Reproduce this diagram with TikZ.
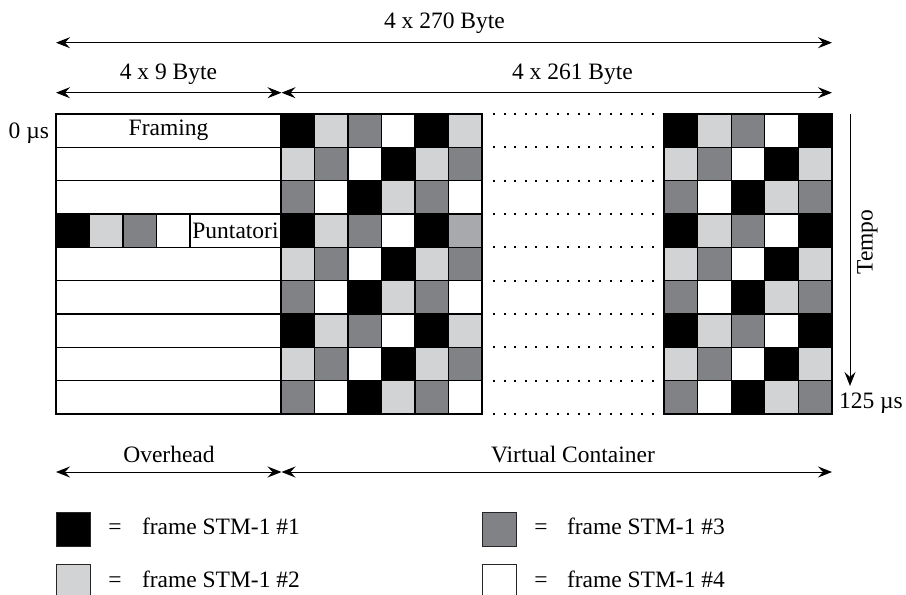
\documentclass[tikz,border=0pt]{standalone}
\usepackage{fontspec}
\setmainfont{Liberation Serif}
\usetikzlibrary{arrows.meta}
\definecolor{frameone}{HTML}{000000}
\definecolor{frametwo}{HTML}{D1D3D4}
\definecolor{framethree}{HTML}{808285}
\definecolor{framefour}{HTML}{FFFFFF}
\definecolor{midgray}{HTML}{A7A9AC}
\begin{document}
\begin{tikzpicture}[x=1pt,y=-1pt,
  txt/.style={font=\fontsize{23.5}{28}\selectfont, inner sep=0pt, outer sep=0pt},
  cellbox/.style={draw=black, line width=1.1pt, minimum width=33.5pt, minimum height=33.33pt,
    inner sep=0pt, outer sep=0pt, anchor=north west, font=\fontsize{23.5}{28}\selectfont},
  ohrow/.style={cellbox, minimum width=225pt},
  legsq/.style={draw=black!85, line width=1pt, minimum width=34pt, minimum height=34pt,
    inner sep=0pt, outer sep=0pt, anchor=north west},
  tipstyle/.style={},
  dimline/.style={line width=1pt,
    {Stealth[length=14pt,width=11pt,inset=5pt]}-{Stealth[length=14pt,width=11pt,inset=5pt]}},
  timeline/.style={line width=1pt, -{Stealth[length=14pt,width=11pt,inset=5pt]}},
  dotrow/.style={line width=1.9pt, dash pattern=on 1.9pt off 8.7pt}
]
\useasboundingbox (0,0) rectangle (906,595);

% overhead rows
\foreach \r in {0,1,2,4,5,6,7,8}{
  \pgfmathsetmacro\yy{114+\r*33.333}
  \node[ohrow] (oh\r) at (56,\yy) {};
}
\node[txt] (framing) at (oh0.center) {Framing};

% pointer row
\foreach \c in {0,1,2,3}{
  \pgfmathsetmacro\xx{56+\c*33.5}
  \edef\cellcol{\ifcase\c frameone\or frametwo\or framethree\or framefour\fi}
  \node[cellbox, fill=\cellcol] (pt\c) at (\xx,214) {};
}
\node[cellbox, minimum width=91pt] (punt) at (190,214) {Puntatori};

% left payload block
\foreach \r in {0,...,8}{
  \foreach \c in {0,...,5}{
    \pgfmathsetmacro\yy{114+\r*33.333}
    \pgfmathsetmacro\xx{281+\c*33.5}
    \pgfmathtruncatemacro\k{mod(mod(\r,3)+\c,4)}
    \edef\cellcol{\ifcase\k frameone\or frametwo\or framethree\or framefour\fi}
    \ifnum\r=3 \ifnum\c=5 \def\cellcol{midgray}\fi\fi
    \node[cellbox, fill=\cellcol] (L\r-\c) at (\xx,\yy) {};
  }
}

% right payload block
\foreach \r in {0,...,8}{
  \foreach \c in {0,...,4}{
    \pgfmathsetmacro\yy{114+\r*33.333}
    \pgfmathsetmacro\xx{664+\c*33.6}
    \pgfmathtruncatemacro\k{mod(mod(\r,3)+\c,4)}
    \edef\cellcol{\ifcase\k frameone\or frametwo\or framethree\or framefour\fi}
    \node[cellbox, minimum width=33.6pt, fill=\cellcol] (R\r-\c) at (\xx,\yy) {};
  }
}

% dotted rows
\foreach \i in {0,...,9}{
  \pgfmathsetmacro\yy{114+\i*33.333}
  \coordinate (ds\i) at (493,\yy);
  \coordinate (de\i) at (654,\yy);
  \draw[dotrow] (ds\i) -- (de\i);
}

% dimension arrows (top)
\coordinate (a0) at (56,42.7);
\coordinate (a1) at (832,42.7);
\draw[dimline] (a0) -- (a1);
\node[txt, anchor=base] (lbltot) at (444.5,28) {4 x 270 Byte};

\coordinate (b0) at (56,92.7);
\coordinate (b1) at (281.5,92.7);
\coordinate (b2) at (832,92.7);
\draw[dimline] (b0) -- (b1);
\draw[dimline] (b1) -- (b2);
\node[txt, anchor=base] (lbloh) at (168.5,79) {4 x 9 Byte};
\node[txt, anchor=base] (lblvc) at (572.5,79) {4 x 261 Byte};

% time axis
\node[txt, anchor=base east] (tzero) at (49,138) {0 µs};
\coordinate (t0) at (850,114);
\coordinate (t1) at (850,386);
\draw[timeline] (t0) -- (t1);
\node[txt, rotate=90] (tempo) at (867.5,242) {Tempo};
\node[txt, anchor=base west] (tend) at (839,408) {125 µs};

% bottom dimension arrows
\coordinate (c0) at (56,472);
\coordinate (c1) at (281.5,472);
\coordinate (c2) at (832,472);
\draw[dimline] (c0) -- (c1);
\draw[dimline] (c1) -- (c2);
\node[txt, anchor=base] (lbloverhead) at (169,462) {Overhead};
\node[txt, anchor=base] (lblvcont) at (573,462) {Virtual Container};

% legend
\node[legsq, fill=frameone] (lg1) at (56,512) {};
\node[legsq, fill=frametwo] (lg2) at (56,564) {};
\node[legsq, fill=framethree] (lg3) at (482,512) {};
\node[legsq, fill=framefour] (lg4) at (482,564) {};
\node[txt, anchor=base] (eq1) at (115,534) {=};
\node[txt, anchor=base] (eq2) at (115,587) {=};
\node[txt, anchor=base] (eq3) at (541,534) {=};
\node[txt, anchor=base] (eq4) at (541,587) {=};
\node[txt, anchor=base west] (lt1) at (142,534) {frame STM-1 \#1};
\node[txt, anchor=base west] (lt2) at (142,587) {frame STM-1 \#2};
\node[txt, anchor=base west] (lt3) at (567,534) {frame STM-1 \#3};
\node[txt, anchor=base west] (lt4) at (567,587) {frame STM-1 \#4};
\end{tikzpicture}
\end{document}
